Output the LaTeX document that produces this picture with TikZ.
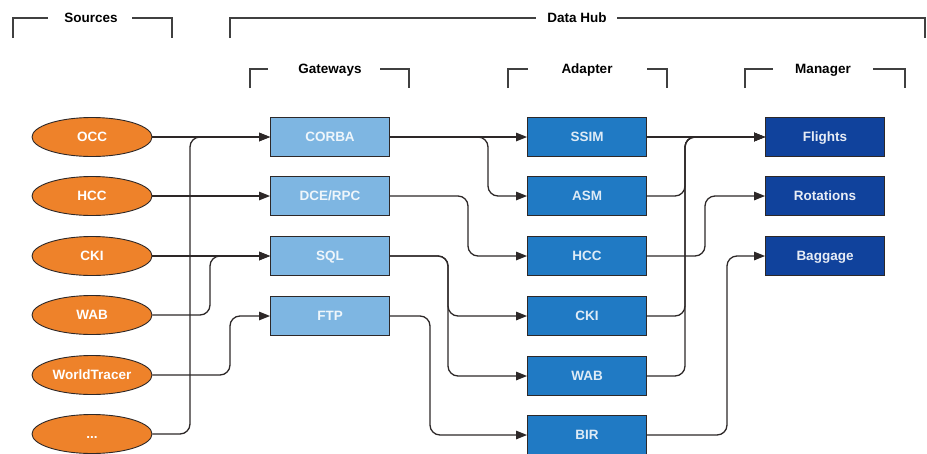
\documentclass[tikz,border=0pt]{standalone}
\usepackage{fontspec}
\setmainfont{Liberation Sans}
\usepackage{xcolor}
\usepackage{tikz}
\usetikzlibrary{positioning}
\usetikzlibrary{arrows.meta}
\usetikzlibrary{shapes.geometric}
\pgfdeclarelayer{nodelayer}
\pgfdeclarelayer{edgelayer}
\pgfsetlayers{nodelayer,edgelayer,main}
\definecolor{srcorange}{RGB}{238,130,42}
\definecolor{gatewayblue}{RGB}{126,182,226}
\definecolor{adapterblue}{RGB}{32,122,196}
\definecolor{managerblue}{RGB}{16,66,156}
\definecolor{linegray}{RGB}{45,40,40}
\tikzset{
    none/.style = {inner sep=0pt},
    boxtext/.style = {font=\bfseries\fontsize{13.5}{15}\selectfont, inner sep=0pt, text height=12.2pt, text depth=2.6pt},
    source/.style = {boxtext, ellipse, draw=linegray, line width=0.9pt, fill=srcorange, text=white, minimum width=120pt, minimum height=39pt},
    gateway/.style = {boxtext, rectangle, draw=linegray, line width=0.9pt, fill=gatewayblue, text=white!88!gatewayblue, minimum width=119pt, minimum height=39pt},
    adapter/.style = {gateway, fill=adapterblue, text=white!85!adapterblue},
    manager/.style = {gateway, fill=managerblue, text=white!90!managerblue},
    heading/.style = {font=\bfseries\fontsize{13.5}{15}\selectfont, inner sep=0pt, text height=12.2pt, text depth=2.6pt},
    bracket/.style = {draw=black!75, line width=1.4pt},
    link/.style = {draw=linegray, line width=1.3pt, rounded corners=10pt, -{Triangle[length=11pt,width=8.5pt]}}
}

\begin{document}
\begin{tikzpicture}[x=1pt, y=-1pt]
  \useasboundingbox (0, 0) rectangle (927, 453);
  \begin{pgfonlayer}{nodelayer}
    % sources
    \node [style=source] (0) at (92, 137) {OCC};
    \node [style=source] (1) at (92, 196) {HCC};
    \node [style=source] (2) at (92, 256) {CKI};
    \node [style=source] (3) at (92, 315) {WAB};
    \node [style=source] (4) at (92, 375) {WorldTracer};
    \node [style=source] (5) at (92, 434) {...};
    % gateways
    \node [style=gateway] (6) at (330, 137) {CORBA};
    \node [style=gateway] (7) at (330, 196) {DCE/RPC};
    \node [style=gateway] (8) at (330, 256) {SQL};
    \node [style=gateway] (9) at (330, 316) {FTP};
    % adapter
    \node [style=adapter] (10) at (587, 137) {SSIM};
    \node [style=adapter] (11) at (587, 196) {ASM};
    \node [style=adapter] (12) at (587, 256) {HCC};
    \node [style=adapter] (13) at (587, 316) {CKI};
    \node [style=adapter] (14) at (587, 376) {WAB};
    \node [style=adapter] (15) at (587, 435) {BIR};
    % manager
    \node [style=manager] (16) at (825, 137) {Flights};
    \node [style=manager] (17) at (825, 196) {Rotations};
    \node [style=manager] (18) at (825, 256) {Baggage};
    % headings
    \node [style=heading] (19) at (91, 18) {Sources};
    \node [style=heading] (20) at (577, 18) {Data Hub};
    \node [style=heading] (21) at (330, 69) {Gateways};
    \node [style=heading] (22) at (587, 69) {Adapter};
    \node [style=heading] (23) at (823, 69) {Manager};
    % bends
    \node [style=none] (24) at (190, 0) {};
    \node [style=none] (25) at (210, 0) {};
    \node [style=none] (26) at (230, 0) {};
    \node [style=none] (27) at (430, 0) {};
    \node [style=none] (28) at (448, 0) {};
    \node [style=none] (29) at (468, 0) {};
    \node [style=none] (30) at (488, 0) {};
    \node [style=none] (31) at (685, 0) {};
    \node [style=none] (32) at (705, 0) {};
    \node [style=none] (33) at (727, 0) {};
  \end{pgfonlayer}
  \begin{pgfonlayer}{edgelayer}
    % brackets
    \draw [style=bracket] (13, 38) |- (48, 18);
    \draw [style=bracket] (132, 18) -| (172, 38);
    \draw [style=bracket] (230, 38) |- (536, 18);
    \draw [style=bracket] (617, 18) -| (925, 38);
    \draw [style=bracket] (250, 88) |- (268, 69);
    \draw [style=bracket] (380, 69) -| (409, 88);
    \draw [style=bracket] (508, 88) |- (528, 69);
    \draw [style=bracket] (647, 69) -| (667, 88);
    \draw [style=bracket] (745, 88) |- (773, 69);
    \draw [style=bracket] (873, 69) -| (905, 88);
    % sources to gateways
    \draw [style=link] (0) to (6);
    \draw [style=link] (1) to (7);
    \draw [style=link] (2) to (8);
    \draw [style=link] (3.east) -- (3.east -| 25.center) |- (8.west);
    \draw [style=link] (4.east) -- (4.east -| 26.center) |- (9.west);
    \draw [style=link] (5.east) -- (5.east -| 24.center) |- (6.west);
    % gateways to adapter
    \draw [style=link] (6) to (10);
    \draw [style=link] (6.east) -- (6.east -| 30.center) |- (11.west);
    \draw [style=link] (7.east) -- (7.east -| 29.center) |- (12.west);
    \draw [style=link] (8.east) -- (8.east -| 28.center) |- (13.west);
    \draw [style=link] (8.east) -- (8.east -| 28.center) |- (14.west);
    \draw [style=link] (9.east) -- (9.east -| 27.center) |- (15.west);
    % adapter to manager
    \draw [style=link] (10) to (16);
    \draw [style=link] (11.east) -- (11.east -| 31.center) |- (16.west);
    \draw [style=link] (12.east) -- (12.east -| 32.center) |- (17.west);
    \draw [style=link] (13.east) -- (13.east -| 31.center) |- (16.west);
    \draw [style=link] (14.east) -- (14.east -| 31.center) |- (16.west);
    \draw [style=link] (15.east) -- (15.east -| 33.center) |- (18.west);
  \end{pgfonlayer}
\end{tikzpicture}
\end{document}
